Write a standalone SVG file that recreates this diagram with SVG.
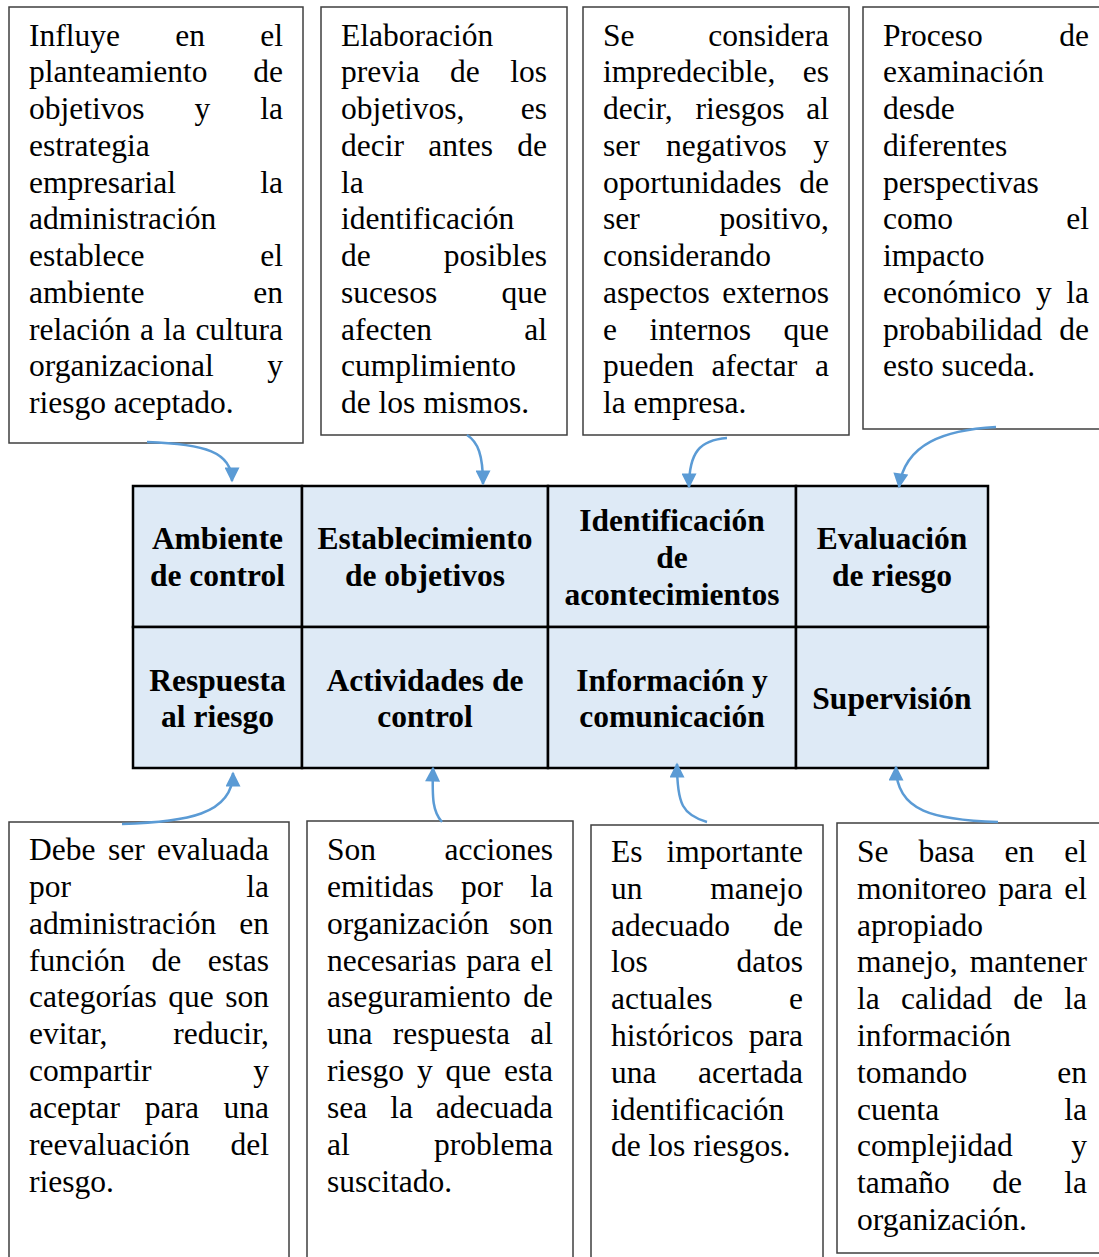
<svg xmlns="http://www.w3.org/2000/svg" width="1099" height="1257" viewBox="0 0 1099 1257">
<style>
.box{fill:#fff;stroke:#3f3f3f;stroke-width:1.5}
.cell{fill:#DEEAF6;stroke:#000;stroke-width:2.5}
.t{font-family:"Liberation Serif","Times New Roman",serif;font-size:31.5px;fill:#000}
.e{text-anchor:end}
.b{font-family:"Liberation Serif","Times New Roman",serif;font-size:31.5px;font-weight:bold;fill:#000;text-anchor:middle}
.arr{fill:none;stroke:#5B9BD5;stroke-width:2.5;marker-end:url(#ah)}
</style>
<defs>
<marker id="ah" viewBox="0 0 10 10" refX="9" refY="5" markerUnits="userSpaceOnUse" markerWidth="17" markerHeight="15" orient="auto">
<path d="M0,0 L10,5 L0,10 z" fill="#5B9BD5"/>
</marker>
</defs>

<g id="desc-ambiente">
<rect class="box" x="9" y="7" width="294" height="436"/>
<text class="t" y="45.5"><tspan x="29">Influye</tspan><tspan x="175.3">en</tspan></text><text class="t e" x="283" y="45.5">el</text>
<text class="t" x="29" y="82.3">planteamiento</text><text class="t e" x="283" y="82.3">de</text>
<text class="t" y="119"><tspan x="29">objetivos</tspan><tspan x="194.5">y</tspan></text><text class="t e" x="283" y="119">la</text>
<text class="t" x="29" y="155.8">estrategia</text>
<text class="t" x="29" y="192.5">empresarial</text><text class="t e" x="283" y="192.5">la</text>
<text class="t" x="29" y="229.3">administración</text>
<text class="t" x="29" y="266">establece</text><text class="t e" x="283" y="266">el</text>
<text class="t" x="29" y="302.8">ambiente</text><text class="t e" x="283" y="302.8">en</text>
<text class="t" y="339.5"><tspan x="29">relación</tspan><tspan x="139.9">a</tspan><tspan x="163.3">la</tspan></text><text class="t e" x="283" y="339.5">cultura</text>
<text class="t" x="29" y="376.3">organizacional</text><text class="t e" x="283" y="376.3">y</text>
<text class="t" x="29" y="413">riesgo aceptado.</text>
</g>

<g id="desc-objetivos">
<rect class="box" x="321" y="7" width="246" height="428"/>
<text class="t" x="341" y="45.5">Elaboración</text>
<text class="t" y="82.3"><tspan x="341">previa</tspan><tspan x="450.1">de</tspan></text><text class="t e" x="547" y="82.3">los</text>
<text class="t" x="341" y="119">objetivos,</text><text class="t e" x="547" y="119">es</text>
<text class="t" y="155.8"><tspan x="341">decir</tspan><tspan x="428.3">antes</tspan></text><text class="t e" x="547" y="155.8">de</text>
<text class="t" x="341" y="192.5">la</text>
<text class="t" x="341" y="229.3">identificación</text>
<text class="t" x="341" y="266">de</text><text class="t e" x="547" y="266">posibles</text>
<text class="t" x="341" y="302.8">sucesos</text><text class="t e" x="547" y="302.8">que</text>
<text class="t" x="341" y="339.5">afecten</text><text class="t e" x="547" y="339.5">al</text>
<text class="t" x="341" y="376.3">cumplimiento</text>
<text class="t" x="341" y="413">de los mismos.</text>
</g>

<g id="desc-identificacion">
<rect class="box" x="583" y="7" width="266" height="428"/>
<text class="t" x="603" y="45.5">Se</text><text class="t e" x="829" y="45.5">considera</text>
<text class="t" x="603" y="82.3">impredecible,</text><text class="t e" x="829" y="82.3">es</text>
<text class="t" y="119"><tspan x="603">decir,</tspan><tspan x="695.4">riesgos</tspan></text><text class="t e" x="829" y="119">al</text>
<text class="t" y="155.8"><tspan x="603">ser</tspan><tspan x="666.1">negativos</tspan></text><text class="t e" x="829" y="155.8">y</text>
<text class="t" x="603" y="192.5">oportunidades</text><text class="t e" x="829" y="192.5">de</text>
<text class="t" x="603" y="229.3">ser</text><text class="t e" x="829" y="229.3">positivo,</text>
<text class="t" x="603" y="266">considerando</text>
<text class="t" x="603" y="302.8">aspectos</text><text class="t e" x="829" y="302.8">externos</text>
<text class="t" y="339.5"><tspan x="603">e</tspan><tspan x="649.5">internos</tspan></text><text class="t e" x="829" y="339.5">que</text>
<text class="t" y="376.3"><tspan x="603">pueden</tspan><tspan x="711.6">afectar</tspan></text><text class="t e" x="829" y="376.3">a</text>
<text class="t" x="603" y="413">la empresa.</text>
</g>

<g id="desc-evaluacion">
<rect class="box" x="863" y="7" width="240" height="422"/>
<text class="t" x="883" y="45.5">Proceso</text><text class="t e" x="1089" y="45.5">de</text>
<text class="t" x="883" y="82.3">examinación</text>
<text class="t" x="883" y="119">desde</text>
<text class="t" x="883" y="155.8">diferentes</text>
<text class="t" x="883" y="192.5">perspectivas</text>
<text class="t" x="883" y="229.3">como</text><text class="t e" x="1089" y="229.3">el</text>
<text class="t" x="883" y="266">impacto</text>
<text class="t" y="302.8"><tspan x="883">económico</tspan><tspan x="1035.9">y</tspan></text><text class="t e" x="1089" y="302.8">la</text>
<text class="t" x="883" y="339.5">probabilidad</text><text class="t e" x="1089" y="339.5">de</text>
<text class="t" x="883" y="376.3">esto suceda.</text>
</g>

<g id="desc-respuesta">
<rect class="box" x="9" y="822" width="280" height="450"/>
<text class="t" y="860"><tspan x="29">Debe</tspan><tspan x="107.9">ser</tspan></text><text class="t e" x="269" y="860">evaluada</text>
<text class="t" x="29" y="896.9">por</text><text class="t e" x="269" y="896.9">la</text>
<text class="t" x="29" y="933.7">administración</text><text class="t e" x="269" y="933.7">en</text>
<text class="t" y="970.6"><tspan x="29">función</tspan><tspan x="151.6">de</tspan></text><text class="t e" x="269" y="970.6">estas</text>
<text class="t" y="1007.4"><tspan x="29">categorías</tspan><tspan x="168.2">que</tspan></text><text class="t e" x="269" y="1007.4">son</text>
<text class="t" x="29" y="1044.3">evitar,</text><text class="t e" x="269" y="1044.3">reducir,</text>
<text class="t" x="29" y="1081.1">compartir</text><text class="t e" x="269" y="1081.1">y</text>
<text class="t" y="1118"><tspan x="29">aceptar</tspan><tspan x="144.7">para</tspan></text><text class="t e" x="269" y="1118">una</text>
<text class="t" x="29" y="1154.8">reevaluación</text><text class="t e" x="269" y="1154.8">del</text>
<text class="t" x="29" y="1191.7">riesgo.</text>
</g>

<g id="desc-actividades">
<rect class="box" x="307" y="821" width="266" height="450"/>
<text class="t" x="327" y="860">Son</text><text class="t e" x="553" y="860">acciones</text>
<text class="t" y="896.9"><tspan x="327">emitidas</tspan><tspan x="461">por</tspan></text><text class="t e" x="553" y="896.9">la</text>
<text class="t" x="327" y="933.7">organización</text><text class="t e" x="553" y="933.7">son</text>
<text class="t" y="970.6"><tspan x="327">necesarias</tspan><tspan x="466.3">para</tspan></text><text class="t e" x="553" y="970.6">el</text>
<text class="t" x="327" y="1007.4">aseguramiento</text><text class="t e" x="553" y="1007.4">de</text>
<text class="t" y="1044.3"><tspan x="327">una</tspan><tspan x="392.8">respuesta</tspan></text><text class="t e" x="553" y="1044.3">al</text>
<text class="t" y="1081.1"><tspan x="327">riesgo</tspan><tspan x="416.9">y</tspan><tspan x="445.6">que</tspan></text><text class="t e" x="553" y="1081.1">esta</text>
<text class="t" y="1118"><tspan x="327">sea</tspan><tspan x="390.2">la</tspan></text><text class="t e" x="553" y="1118">adecuada</text>
<text class="t" x="327" y="1154.8">al</text><text class="t e" x="553" y="1154.8">problema</text>
<text class="t" x="327" y="1191.7">suscitado.</text>
</g>

<g id="desc-informacion">
<rect class="box" x="591" y="825" width="232" height="450"/>
<text class="t" x="611" y="862">Es</text><text class="t e" x="803" y="862">importante</text>
<text class="t" x="611" y="898.8">un</text><text class="t e" x="803" y="898.8">manejo</text>
<text class="t" x="611" y="935.6">adecuado</text><text class="t e" x="803" y="935.6">de</text>
<text class="t" x="611" y="972.4">los</text><text class="t e" x="803" y="972.4">datos</text>
<text class="t" x="611" y="1009.2">actuales</text><text class="t e" x="803" y="1009.2">e</text>
<text class="t" x="611" y="1046">históricos</text><text class="t e" x="803" y="1046">para</text>
<text class="t" x="611" y="1082.8">una</text><text class="t e" x="803" y="1082.8">acertada</text>
<text class="t" x="611" y="1119.6">identificación</text>
<text class="t" x="611" y="1156.4">de los riesgos.</text>
</g>

<g id="desc-supervision">
<rect class="box" x="837" y="823" width="270" height="430"/>
<text class="t" y="862"><tspan x="857">Se</tspan><tspan x="918.5">basa</tspan><tspan x="1004.5">en</tspan></text><text class="t e" x="1087" y="862">el</text>
<text class="t" y="898.8"><tspan x="857">monitoreo</tspan><tspan x="998.3">para</tspan></text><text class="t e" x="1087" y="898.8">el</text>
<text class="t" x="857" y="935.6">apropiado</text>
<text class="t" x="857" y="972.4">manejo,</text><text class="t e" x="1087" y="972.4">mantener</text>
<text class="t" y="1009.2"><tspan x="857">la</tspan><tspan x="901">calidad</tspan><tspan x="1013.3">de</tspan></text><text class="t e" x="1087" y="1009.2">la</text>
<text class="t" x="857" y="1046">información</text>
<text class="t" x="857" y="1082.8">tomando</text><text class="t e" x="1087" y="1082.8">en</text>
<text class="t" x="857" y="1119.6">cuenta</text><text class="t e" x="1087" y="1119.6">la</text>
<text class="t" x="857" y="1156.4">complejidad</text><text class="t e" x="1087" y="1156.4">y</text>
<text class="t" y="1193.2"><tspan x="857">tamaño</tspan><tspan x="992.2">de</tspan></text><text class="t e" x="1087" y="1193.2">la</text>
<text class="t" x="857" y="1230">organización.</text>
</g>

<g id="cell-ambiente">
<rect class="cell" x="133" y="486" width="169" height="141"/>
<text class="b" x="217.5" y="549">Ambiente</text>
<text class="b" x="217.5" y="586">de control</text>
</g>
<g id="cell-objetivos">
<rect class="cell" x="302" y="486" width="246" height="141"/>
<text class="b" x="425" y="549">Establecimiento</text>
<text class="b" x="425" y="586">de objetivos</text>
</g>
<g id="cell-identificacion">
<rect class="cell" x="548" y="486" width="248" height="141"/>
<text class="b" x="672" y="531">Identificación</text>
<text class="b" x="672" y="568">de</text>
<text class="b" x="672" y="605">acontecimientos</text>
</g>
<g id="cell-evaluacion">
<rect class="cell" x="796" y="486" width="192" height="141"/>
<text class="b" x="892" y="549">Evaluación</text>
<text class="b" x="892" y="586">de riesgo</text>
</g>
<g id="cell-respuesta">
<rect class="cell" x="133" y="627" width="169" height="141"/>
<text class="b" x="217.5" y="691">Respuesta</text>
<text class="b" x="217.5" y="727">al riesgo</text>
</g>
<g id="cell-actividades">
<rect class="cell" x="302" y="627" width="246" height="141"/>
<text class="b" x="425" y="691">Actividades de</text>
<text class="b" x="425" y="727">control</text>
</g>
<g id="cell-informacion">
<rect class="cell" x="548" y="627" width="248" height="141"/>
<text class="b" x="672" y="691">Información y</text>
<text class="b" x="672" y="727">comunicación</text>
</g>
<g id="cell-supervision">
<rect class="cell" x="796" y="627" width="192" height="141"/>
<text class="b" x="892" y="709">Supervisión</text>
</g>

<g id="connectors">
<path class="arr" d="M147,442 C205,444 232,452 232,481"/>
<path class="arr" d="M467,435 C478,442 483,455 483,484"/>
<path class="arr" d="M727,438 C700,440 689,452 689,487"/>
<path class="arr" d="M996,427 C945,430 905,443 899,487"/>
<path class="arr" d="M122,824 C185,822 233,815 233,773"/>
<path class="arr" d="M442,822 C433,812 432,800 433,768"/>
<path class="arr" d="M707,822 C683,815 677,805 677,764"/>
<path class="arr" d="M998,822 C935,820 896,812 896,767"/>
</g>
</svg>
